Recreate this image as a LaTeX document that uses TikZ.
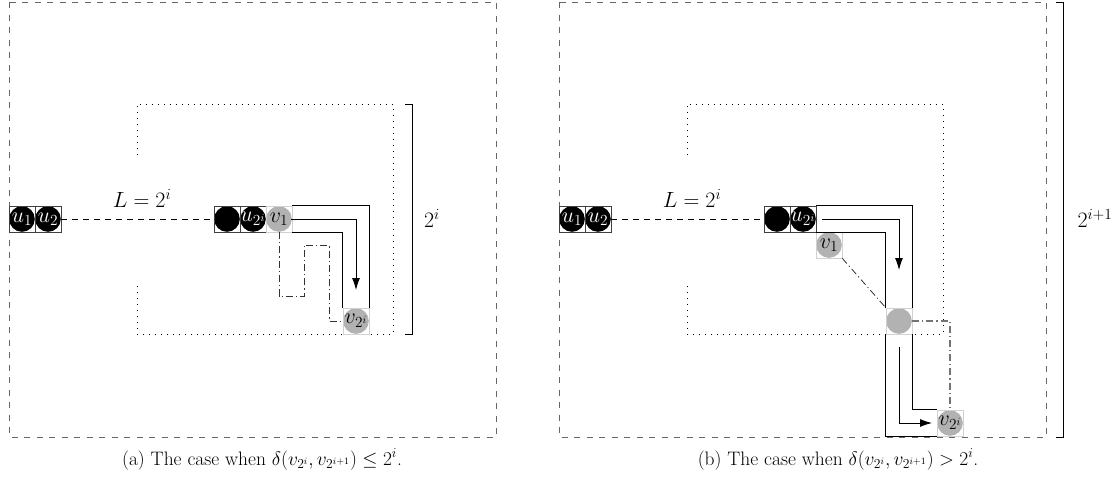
\documentclass[tikz,border=0pt]{standalone}
\usepackage{fix-cm}
\usetikzlibrary{arrows.meta}
\begin{document}
\begin{tikzpicture}[x=1pt,y=-1pt,
  every node/.style={font=\fontsize{22}{26}\selectfont},
  captext/.style={font=\fontsize{19.5}{23}\selectfont},
  cellb/.style={rectangle, minimum size=26pt, inner sep=0pt, draw=black!75, line width=0.5pt, text=white,
     path picture={\fill[black] (path picture bounding box.center) circle (12.8pt);}},
  cellg/.style={rectangle, minimum size=26pt, inner sep=0pt, draw=black!18, line width=0.5pt, text=black, fill=white,
     path picture={\fill[black!30] (path picture bounding box.center) circle (12.8pt);}},
  outerbox/.style={draw=black!60, line width=0.9pt, dash pattern=on 6pt off 6.5pt},
  dotbox/.style={draw=black, line width=0.7pt, dash pattern=on 1pt off 5pt},
  lenline/.style={draw=black, line width=0.8pt, dash pattern=on 6pt off 5pt},
  corridor/.style={draw=black, line width=0.9pt},
  walk/.style={draw=black, line width=0.9pt, -{Latex[length=12pt,width=8pt]}},
  dashdot/.style={draw=black!80, line width=0.8pt, dash pattern=on 7pt off 3pt on 1.2pt off 3pt},
  dashdotg/.style={draw=black!55, line width=1.4pt, dash pattern=on 7pt off 3pt on 1.2pt off 3pt},
  bracketline/.style={draw=black, line width=0.9pt}
]
\useasboundingbox (0,0) rectangle (1120,483);

% ---------------- (a) ----------------
\draw[outerbox] (9,2) rectangle (496,437);
\draw[dotbox] (137,155) -- (137,104) -- (393,104) -- (393,334) -- (137,334) -- (137,282);
\draw[bracketline] (405,104) -- (412,104) -- (412,334) -- (405,334);
\node (ka) at (432,218) {$2^i$};
\node[anchor=base] (La) at (142,207) {$L=2^i$};

\node[cellb] (u1a) at (22,219) {$u_1$};
\node[cellb] (u2a) at (48,219) {$u_2$};
\node[cellb] (ba) at (227,219) {};
\node[cellb] (u2ia) at (253,219) {$u_{2^i}$};
\node[cellg] (v1a) at (279,219) {$v_1$};
\node[cellg] (v2ia) at (356,321) {$v_{2^i}$};

\draw[lenline] (u2a.east) -- (ba.west);
\draw[corridor] (v1a.north east) -- (v2ia.north east |- v1a.north east) -- (v2ia.north east);
\draw[corridor] (v1a.south east) -- (v2ia.north west |- v1a.south east) -- (v2ia.north west);
\coordinate (wa1) at (291,219);
\coordinate (wa2) at (356,290);
\draw[walk] (wa1) -- (wa1 -| wa2) -- (wa2);
\draw[dashdot] (v1a.south) -- (279,296) -- (304,296) -- (304,245) -- (329,245) -- (329,321) -- (v2ia.west);

\node[anchor=base, captext] (capa) at (262,465) {(a) The case when $\delta(v_{2^i},v_{2^{i+1}})\leq 2^i$.};

% ---------------- (b) ----------------
\draw[outerbox] (559,2) rectangle (1046,437);
\draw[dotbox] (687,155) -- (687,104) -- (943,104) -- (943,334) -- (687,334) -- (687,282);
\draw[bracketline] (1056,2) -- (1063,2) -- (1063,437) -- (1056,437);
\node (kb) at (1095,218) {$2^{i+1}$};
\node[anchor=base] (Lb) at (692,207) {$L=2^i$};

\node[cellb] (u1b) at (572,219) {$u_1$};
\node[cellb] (u2b) at (598,219) {$u_2$};
\node[cellb] (bb) at (777,219) {};
\node[cellb] (u2ib) at (803,219) {$u_{2^i}$};
\node[cellg] (v1b) at (829,245) {$v_1$};
\node[cellg] (mb) at (899,321) {};
\node[cellg] (v2ib) at (950,423) {$v_{2^i}$};

\draw[lenline] (u2b.east) -- (bb.west);
\draw[corridor] (u2ib.north east) -- (mb.north east |- u2ib.north east) -- (mb.north east);
\draw[corridor] (mb.south east) -- (mb.south east |- v2ib.north west) -- (v2ib.north west);
\draw[corridor] (u2ib.south east) -- (mb.north west |- u2ib.south east) -- (mb.north west);
\draw[corridor] (mb.south west) -- (mb.south west |- v2ib.south west) -- (v2ib.south west);
\coordinate (wb1) at (822,219);
\coordinate (wb2) at (899,270);
\draw[walk] (wb1) -- (wb1 -| wb2) -- (wb2);
\coordinate (wb3) at (899,347);
\coordinate (wb4) at (932,423);
\draw[walk] (wb3) -- (wb3 |- wb4) -- (wb4);
\draw[dashdot] (v1b.south east) -- (mb.north west);
\draw[dashdotg] (mb.east) -- (mb.east -| v2ib.north) -- (v2ib.north);

\node[anchor=base, captext] (capb) at (838,465) {(b) The case when $\delta(v_{2^i},v_{2^{i+1}})> 2^i$.};
\end{tikzpicture}
\end{document}
